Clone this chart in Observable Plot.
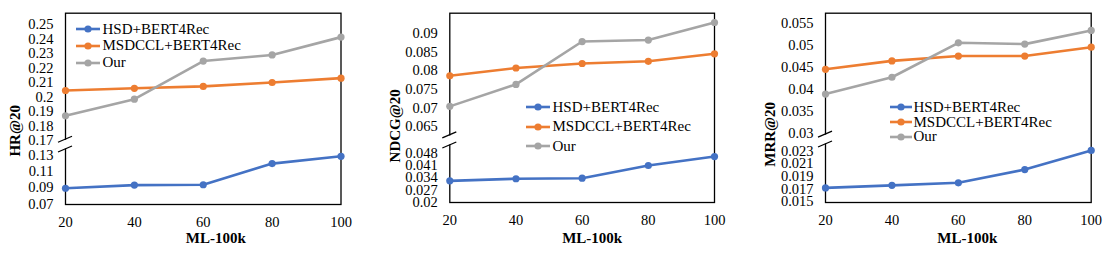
<!DOCTYPE html>
<html>
<head>
<meta charset="utf-8">
<script src="https://cdn.jsdelivr.net/npm/d3@7"></script>
<script src="https://cdn.jsdelivr.net/npm/@observablehq/plot@0.6"></script>
<style>
  html, body { margin: 0; padding: 0; background: #fff; }
  #wrap { position: relative; width: 1112px; height: 253px; overflow: hidden; font-family: "Liberation Serif", "Times New Roman", serif; }
  .panel { position: absolute; top: 0; height: 253px; }
  .panel svg { overflow: visible; }
  .legend-row { position: absolute; display: flex; align-items: center; height: 18px; font-size: 15px; color: #000; white-space: nowrap; }
  .legend-row svg { display: block; }
</style>
</head>
<body>
<div id="wrap"></div>
<script>
// ---- data ----
const xValues = [20, 40, 60, 80, 100];
const seriesNames = ["HSD+BERT4Rec", "MSDCCL+BERT4Rec", "Our"];
const seriesColors = ["#4472C4", "#ED7D31", "#A5A5A5"];

const hrHSD = [0.0895, 0.0934, 0.0938, 0.120, 0.129];
const hrMSDCCL = [0.2045, 0.2060, 0.2073, 0.2100, 0.2130];
const hrOur = [0.1870, 0.1985, 0.2248, 0.2290, 0.2413];

const ndcgHSD = [0.0323, 0.0335, 0.0338, 0.0410, 0.0461];
const ndcgMSDCCL = [0.0786, 0.0807, 0.0819, 0.0825, 0.0845];
const ndcgOur = [0.0704, 0.0763, 0.0878, 0.0882, 0.0929];

const mrrHSD = [0.0172, 0.0176, 0.0180, 0.0201, 0.0233];
const mrrMSDCCL = [0.0446, 0.0465, 0.0476, 0.0476, 0.0496];
const mrrOur = [0.0390, 0.0428, 0.0506, 0.0503, 0.0534];

const hrTicks = [0.07, 0.09, 0.11, 0.13, 0.17, 0.18, 0.19, 0.2, 0.21, 0.22, 0.23, 0.24, 0.25];
const ndcgTicks = [0.02, 0.027, 0.034, 0.041, 0.048, 0.065, 0.07, 0.075, 0.08, 0.085, 0.09];
const mrrTicks = [0.015, 0.017, 0.019, 0.021, 0.023, 0.03, 0.035, 0.04, 0.045, 0.05, 0.055];

const xLabel = "ML-100k";
const yLabels = ["HR@20", "NDCG@20", "MRR@20"];

// ---- layout (positions only) ----
const panels = [
  {
    left: 0, width: 370, mL: 65, mR: 29.5, mT: 12.7, mB: 49,
    yDomain: [0.07, 0.13, 0.17, 0.2578], yRange: [203.5, 155, 140, 12.7],
    ticks: hrTicks, series: [hrHSD, hrMSDCCL, hrOur], yLabel: yLabels[0],
    breaks: [0.146, 0.1705],
    yTitle: { dx: -50, dy: 22 }, xTitle: { dx: 12.5, dy: 34 },
    legend: { x0: 76, x1: 100, tx: 102.5, rows: [29, 45.9, 62.8] }
  },
  {
    left: 370, width: 370, mL: 79.3, mR: 26, mT: 12.7, mB: 51,
    yDomain: [0.02, 0.048, 0.065, 0.0954], yRange: [202, 152.7, 126, 12.7],
    ticks: ndcgTicks, series: [ndcgHSD, ndcgMSDCCL, ndcgOur], yLabel: yLabels[1],
    breaks: [0.0529, 0.0593],
    yTitle: { dx: -54.3, dy: 18 }, xTitle: { dx: 10, dy: 35.7 },
    legend: { x0: 156, x1: 180, tx: 182.5, rows: [107.3, 126.7, 146] }
  },
  {
    left: 740, width: 372, mL: 85, mR: 21.3, mT: 12.7, mB: 51,
    yDomain: [0.015, 0.023, 0.03, 0.0573], yRange: [201.3, 150.7, 133.3, 12.7],
    ticks: mrrTicks, series: [mrrHSD, mrrMSDCCL, mrrOur], yLabel: yLabels[2],
    breaks: [0.0257, 0.0297],
    yTitle: { dx: -55, dy: 26.5 }, xTitle: { dx: 9, dy: 35.7 },
    legend: { x0: 150, x1: 172, tx: 173.5, rows: [107.3, 122, 136.7] }
  }
];

const FONT = "Liberation Serif, Times New Roman, serif";

function breakMark(bvals) {
  return (index, scales, values, dimensions) => {
    const g = d3.create("svg:g");
    const x0 = scales.x(xValues[0]);
    const ys = bvals.map(v => scales.y(v));
    g.append("line")
      .attr("x1", x0).attr("x2", x0)
      .attr("y1", Math.min(...ys) + 0.5).attr("y2", Math.max(...ys) - 0.5)
      .attr("stroke", "white").attr("stroke-width", 4);
    for (const y of ys) {
      g.append("line")
        .attr("x1", x0 - 7).attr("y1", y + 3)
        .attr("x2", x0 + 7).attr("y2", y - 3)
        .attr("stroke", "black").attr("stroke-width", 1.3);
    }
    return g.node();
  };
}

const wrap = document.getElementById("wrap");

panels.forEach(p => {
  const rows = [];
  p.series.forEach((vals, si) => {
    vals.forEach((v, i) => rows.push({ x: xValues[i], y: v, s: seriesNames[si] }));
  });

  const chart = Plot.plot({
    width: p.width, height: 253,
    marginLeft: p.mL, marginRight: p.mR, marginTop: p.mT, marginBottom: p.mB,
    style: { fontFamily: FONT, fontSize: "14.5px", color: "#000", background: "transparent", overflow: "visible" },
    x: { domain: [xValues[0], xValues[xValues.length - 1]] },
    y: { type: "linear", domain: p.yDomain, range: p.yRange },
    color: { domain: seriesNames, range: seriesColors },
    marks: [
      Plot.frame({ stroke: "#000", strokeWidth: 1.3 }),
      Plot.axisX({ ticks: xValues, tickSize: 0, tickPadding: 12, label: null, fontSize: 14.5, tickFormat: d => String(d) }),
      Plot.axisY({ ticks: p.ticks, tickSize: 0, tickPadding: 12, label: null, fontSize: 14.5, tickFormat: d => String(d) }),
      breakMark(p.breaks),
      Plot.line(rows, { x: "x", y: "y", z: "s", stroke: "s", strokeWidth: 2.6 }),
      Plot.dot(rows, { x: "x", y: "y", fill: "s", r: 3.6 }),
      Plot.text([p.yLabel], { frameAnchor: "left", dx: p.yTitle.dx, dy: p.yTitle.dy, rotate: -90, text: d => d, fontWeight: "bold", fontSize: 15, textAnchor: "middle", lineAnchor: "middle", fill: "#000" }),
      Plot.text([xLabel], { frameAnchor: "bottom", dx: p.xTitle.dx, dy: p.xTitle.dy, text: d => d, fontWeight: "bold", fontSize: 15, textAnchor: "middle", lineAnchor: "middle", fill: "#000" })
    ]
  });

  const div = document.createElement("div");
  div.className = "panel";
  div.style.left = p.left + "px";
  div.style.width = p.width + "px";
  div.appendChild(chart);

  // legend
  seriesNames.forEach((name, i) => {
    const row = document.createElement("div");
    row.className = "legend-row";
    row.style.left = p.legend.x0 + "px";
    row.style.top = (p.legend.rows[i] - 9) + "px";
    const w = p.legend.x1 - p.legend.x0;
    const sw = d3.create("svg").attr("width", w).attr("height", 18);
    sw.append("line").attr("x1", 0).attr("x2", w).attr("y1", 9).attr("y2", 9)
      .attr("stroke", seriesColors[i]).attr("stroke-width", 2.6);
    sw.append("circle").attr("cx", w / 2).attr("cy", 9).attr("r", 3.6).attr("fill", seriesColors[i]);
    row.appendChild(sw.node());
    const t = document.createElement("span");
    t.textContent = name;
    t.style.marginLeft = (p.legend.tx - p.legend.x1) + "px";
    row.appendChild(t);
    div.appendChild(row);
  });

  wrap.appendChild(div);
});
</script>
</body>
</html>
